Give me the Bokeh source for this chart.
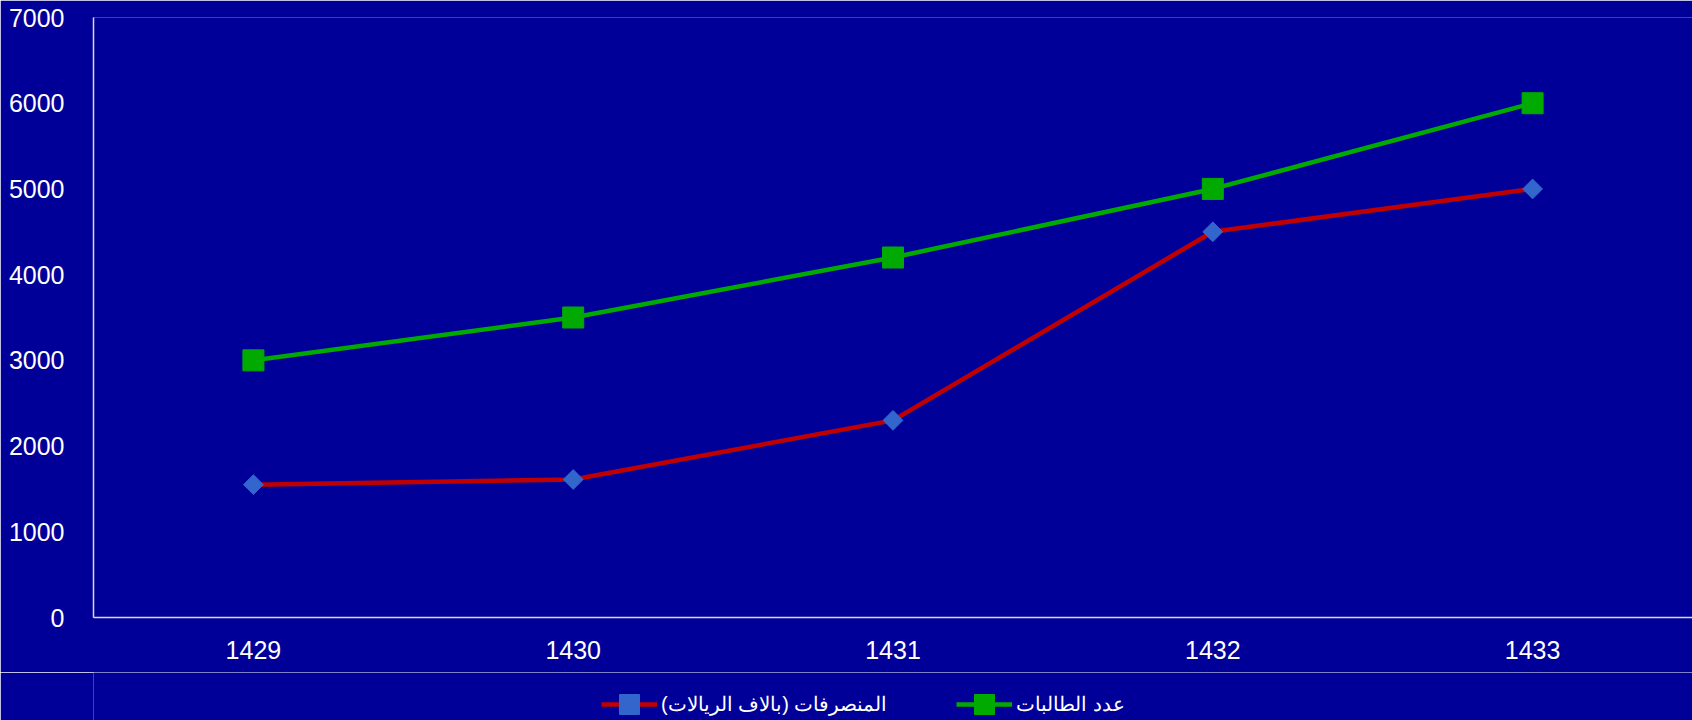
from bokeh.plotting import figure
from bokeh.layouts import column
from bokeh.models import (FactorRange, Range1d, FixedTicker, Legend, LegendItem)
from bokeh.embed import file_html
from bokeh.resources import INLINE
import math

# Data
years = ["1429", "1430", "1431", "1432", "1433"]
expenses = [1550, 1610, 2300, 4500, 5000]      # المنصرفات (بالاف الريالات)
students = [3000, 3500, 4200, 5000, 6000]      # عدد الطالبات
y_ticks = [0, 1000, 2000, 3000, 4000, 5000, 6000, 7000]

expenses_label = "المنصرفات (بالاف الريالات)\u200f"
students_label = "عدد الطالبات"

BG = "#000099"
FONT = "Liberation Sans"
RED, BLUE, GREEN = "#c00000", "#3366cc", "#00aa00"

red_line_style = dict(line_color=RED, line_width=4.5)
red_marker_style = dict(marker="square", size=14, angle=math.pi / 4,
                        fill_color=BLUE, line_color=BLUE)
green_line_style = dict(line_color=GREEN, line_width=4.5)
green_marker_style = dict(marker="square", size=21,
                          fill_color=GREEN, line_color=GREEN)

x_range = FactorRange(*years, range_padding=0)

# Main chart
p = figure(
    width=1692, height=672,
    x_range=x_range,
    y_range=Range1d(0, 7000),
    output_backend="svg", toolbar_location=None,
    background_fill_color=BG, border_fill_color=BG,
    min_border_left=93, min_border_right=0,
    min_border_top=17, min_border_bottom=55,
)
p.outline_line_color = None
p.xgrid.visible = False
p.ygrid.visible = False

for ax in (p.xaxis, p.yaxis):
    ax.axis_line_color = "#d9d9d9"
    ax.axis_line_width = 1.5
    ax.major_tick_line_color = None
    ax.minor_tick_line_color = None
    ax.major_label_text_color = "white"
    ax.major_label_text_font = FONT
    ax.major_label_text_font_size = "25px"

p.yaxis.ticker = FixedTicker(ticks=y_ticks)
p.yaxis.major_label_standoff = 23
p.xaxis.major_label_standoff = 17

p.line(years, expenses, **red_line_style)
p.scatter(years, expenses, **red_marker_style)
p.line(years, students, **green_line_style)
p.scatter(years, students, **green_marker_style)

# Legend strip underneath the chart; its series sit above its visible
# y-range, so only the legend keys show
lg = figure(
    width=1692, height=48,
    x_range=x_range, y_range=Range1d(-2, -1),
    output_backend="svg", toolbar_location=None,
    background_fill_color=BG, border_fill_color=BG,
    min_border=0,
)
lg.outline_line_color = None
lg.axis.visible = False
lg.grid.visible = False

key_red_line = lg.line(years, expenses, **red_line_style)
key_red_pts = lg.scatter(years, expenses, **red_marker_style)
key_green_line = lg.line(years, students, **green_line_style)
key_green_pts = lg.scatter(years, students, **green_marker_style)

legend = Legend(
    items=[
        LegendItem(label=expenses_label, renderers=[key_red_line, key_red_pts]),
        LegendItem(label=students_label, renderers=[key_green_line, key_green_pts]),
    ],
    orientation="horizontal",
    location=(508, -9),
    background_fill_alpha=0,
    border_line_color=None,
    label_text_color="white",
    label_text_font=FONT,
    label_text_font_size="20px",
    glyph_width=56, glyph_height=50, label_height=50,
    label_standoff=4, spacing=69,
    padding=0, margin=0,
)
lg.add_layout(legend, "center")

layout = column(p, lg, spacing=0)
html = file_html(layout, INLINE)
html = html.replace("<body>", '<body style="margin:0;background:%s">' % BG, 1)
open("out.html", "w").write(html)
